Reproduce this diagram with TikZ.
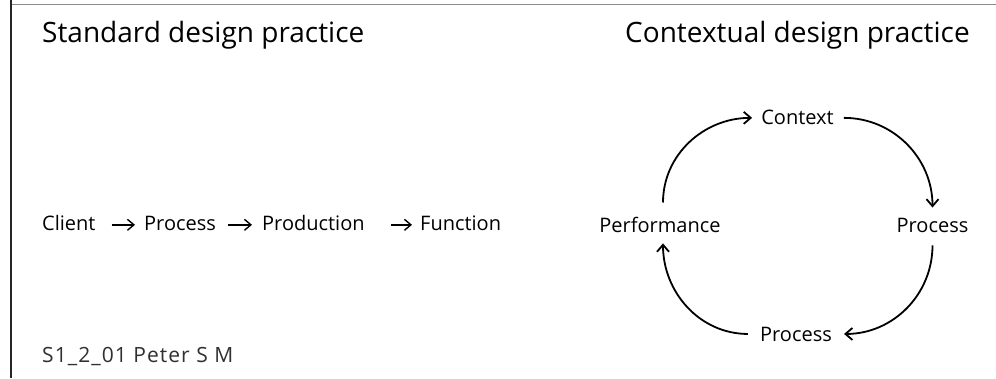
\documentclass[tikz,border=0pt]{standalone}
\usepackage{fontspec}
\setmainfont{Open Sans}
\usetikzlibrary{arrows.meta}
\definecolor{rulegray}{HTML}{8C8C8C}
\definecolor{edgedark}{HTML}{262626}
\definecolor{creditgray}{HTML}{303030}
\tikzset{
  heading/.style={inner sep=0pt, anchor=base west, font=\fontsize{28}{34}\selectfont},
  word/.style={inner sep=0pt, anchor=base west, font=\fontsize{20}{24}\selectfont},
  cycleword/.style={inner sep=0pt, anchor=base, font=\fontsize{20}{24}\selectfont},
  chainarrow/.style={line width=1.4pt, -{Straight Barb[length=6.5pt,width=11pt]}},
  cyclearrow/.style={line width=1.8pt, -{Straight Barb[length=7pt,width=12pt]}},
}
\begin{document}
\begin{tikzpicture}[x=1pt,y=1pt]
\useasboundingbox (0,0) rectangle (996,378);

% frame lines
\draw[rulegray, line width=1.5pt] (11,373.5) -- (996,373.5);
\draw[edgedark, line width=1.5pt] (11,378) -- (11,0);

% headings
\node[heading] (std) at (42,335) {Standard design practice};
\node[heading] (ctxh) at (625,335) {Contextual design practice};

% linear chain
\node[word] (client) at (42,148) {Client};
\node[word] (proc1) at (144,148) {Process};
\node[word] (prod) at (262,148) {Production};
\node[word] (func) at (420,148) {Function};

\draw[chainarrow] ([xshift=16pt,yshift=2.5pt]client.mid east) -- ([xshift=-9pt,yshift=2.5pt]proc1.mid west);
\draw[chainarrow] ([xshift=12pt,yshift=2.5pt]proc1.mid east) -- ([xshift=-10pt,yshift=2.5pt]prod.mid west);
\draw[chainarrow] ([xshift=26pt,yshift=2.5pt]prod.mid east) -- ([xshift=-8pt,yshift=2.5pt]func.mid west);

% cycle
\node[cycleword] (ctx) at (797.5,253) {Context};
\node[cycleword] (perf) at (660,146) {Performance};
\node[cycleword] (procR) at (932.5,146) {Process};
\node[cycleword] (procB) at (796,37) {Process};

\draw[cyclearrow] ([xshift=3pt,yshift=14pt]perf.north) to[out=90,in=180] ([xshift=-9pt]ctx.west);
\draw[cyclearrow] ([xshift=10pt]ctx.east) to[out=0,in=90] ([yshift=10pt]procR.north);
\draw[cyclearrow] ([yshift=-13pt]procR.south) to[out=270,in=0] ([xshift=12pt]procB.east);
\draw[cyclearrow] ([xshift=-12pt]procB.west) to[out=180,in=270] ([xshift=3pt,yshift=-11pt]perf.south);

% credit line
\node[word, font=\fontsize{21}{25}\selectfont\addfontfeatures{LetterSpace=5}, text=creditgray] (credit) at (42,16) {S1\_2\_01 Peter S M};
\end{tikzpicture}
\end{document}
